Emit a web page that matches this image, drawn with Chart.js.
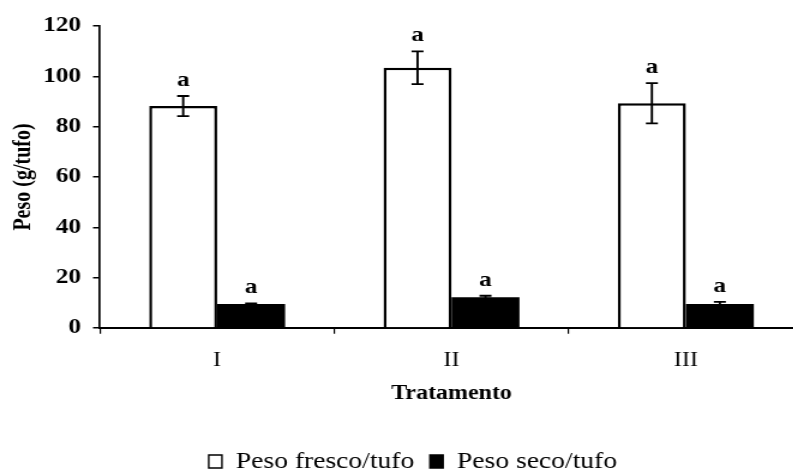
<!DOCTYPE html>
<html>
<head>
<meta charset="utf-8">
<script src="https://cdn.jsdelivr.net/npm/chart.js@4.4.1/dist/chart.umd.min.js"></script>
<style>
  html, body { margin: 0; padding: 0; background: #fff; overflow: hidden; }
  #wrap { width: 675px; height: 474px; transform: scaleX(1.2); transform-origin: 0 0; }
  canvas { display: block; }
</style>
</head>
<body>
<div id="wrap"><canvas id="chart" width="675" height="474"></canvas></div>
<script>
// Tratamentos e pesos medios por tufo (g), com desvio
const categories = ['I', 'II', 'III'];
const pesoFresco = [88.2, 103.4, 89.3];
const erroFresco = [4.0, 6.5, 8.0];
const pesoSeco = [9.5, 12.2, 9.5];
const erroSeco = [0.3, 0.6, 0.9];
const letrasFresco = ['a', 'a', 'a'];
const letrasSeco = ['a', 'a', 'a'];
const yTicks = [0, 20, 40, 60, 80, 100, 120];

const FONT = '"Liberation Serif", "Times New Roman", serif';
Chart.defaults.font.family = FONT;
Chart.defaults.color = '#000';

// Barras de erro e letras de significancia acima de cada barra
const errorBarPlugin = {
  id: 'errorBars',
  afterDatasetsDraw(chart) {
    const { ctx } = chart;
    const y = chart.scales.y;
    chart.data.datasets.forEach((ds, di) => {
      const meta = chart.getDatasetMeta(di);
      meta.data.forEach((bar, i) => {
        const v = ds.data[i];
        const e = ds.errors[i];
        const x = bar.x;
        const top = y.getPixelForValue(v + e);
        const bot = y.getPixelForValue(v - e);
        const cap = 5;
        ctx.save();
        ctx.strokeStyle = '#000';
        ctx.lineWidth = 1.9;
        ctx.beginPath();
        ctx.moveTo(x, top); ctx.lineTo(x, bot);
        ctx.moveTo(x - cap, top); ctx.lineTo(x + cap, top);
        ctx.moveTo(x - cap, bot); ctx.lineTo(x + cap, bot);
        ctx.stroke();
        ctx.fillStyle = '#000';
        ctx.font = 'bold 21px ' + FONT;
        ctx.textAlign = 'center';
        ctx.textBaseline = 'alphabetic';
        ctx.fillText(ds.letters[i], x, top - 10);
        ctx.restore();
      });
    });
  }
};

new Chart(document.getElementById('chart'), {
  type: 'bar',
  data: {
    labels: categories,
    datasets: [
      {
        label: 'Peso fresco/tufo',
        data: pesoFresco,
        errors: erroFresco,
        letters: letrasFresco,
        backgroundColor: '#fff',
        borderColor: '#000',
        borderWidth: 2.5,
        categoryPercentage: 0.58,
        barPercentage: 1.0
      },
      {
        label: 'Peso seco/tufo',
        data: pesoSeco,
        errors: erroSeco,
        letters: letrasSeco,
        backgroundColor: '#000',
        borderColor: '#000',
        borderWidth: 0,
        categoryPercentage: 0.58,
        barPercentage: 1.0
      }
    ]
  },
  options: {
    responsive: false,
    animation: false,
    devicePixelRatio: 1,
    layout: { padding: { top: 26, right: 5.8, bottom: -9, left: 19 } },
    plugins: {
      tooltip: { enabled: false },
      legend: {
        position: 'bottom',
        labels: {
          boxWidth: 11,
          boxHeight: 13,
          padding: 13,
          font: { size: 23 },
          color: '#000',
          generateLabels(chart) {
            const items = Chart.defaults.plugins.legend.labels.generateLabels(chart);
            items.forEach(it => { it.lineWidth = 1.4; it.strokeStyle = '#000'; });
            return items;
          }
        }
      }
    },
    scales: {
      x: {
        offset: true,
        grid: { offset: true, drawOnChartArea: false, drawTicks: true, tickLength: 5.8, color: '#000', lineWidth: 1.2 },
        border: { display: true, color: '#000', width: 2 },
        ticks: { font: { size: 20 }, color: '#000', padding: 15, maxRotation: 0 },
        title: { display: true, text: 'Tratamento', font: { size: 20, weight: 'bold' }, color: '#000', padding: { top: 0, bottom: 31 } },
        afterFit(scale) { scale.height = 109; }
      },
      y: {
        min: 0,
        max: 120,
        afterBuildTicks(scale) { scale.ticks = yTicks.map(v => ({ value: v })); },
        grid: { drawOnChartArea: false, drawTicks: true, tickLength: 5.8, color: '#000', lineWidth: 1.5 },
        border: { display: true, color: '#000', width: 1.7 },
        ticks: { font: { size: 21, weight: 'bold' }, color: '#000', padding: 10 },
        title: { display: true, text: 'Peso (g/tufo)', font: { size: 20, weight: 'bold' }, color: '#000', padding: { top: -11, bottom: 0 } },
        afterFit(scale) { scale.width = 64.3; }
      }
    }
  },
  plugins: [errorBarPlugin]
});
</script>
</body>
</html>
